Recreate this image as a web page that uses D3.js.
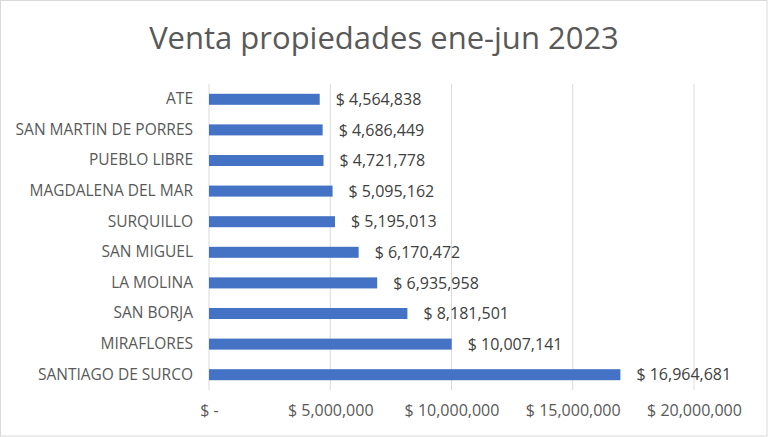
<!DOCTYPE html>
<html>
<head>
<meta charset="utf-8">
<script src="https://cdn.jsdelivr.net/npm/d3@7"></script>
<style>
  body { margin: 0; background: #fff; }
  svg text { font-family: "Open Sans", "Noto Sans", sans-serif; }
</style>
</head>
<body>
<svg id="chart"></svg>
<script>
const categories = ['ATE', 'SAN MARTIN DE PORRES', 'PUEBLO LIBRE', 'MAGDALENA DEL MAR', 'SURQUILLO',
  'SAN MIGUEL', 'LA MOLINA', 'SAN BORJA', 'MIRAFLORES', 'SANTIAGO DE SURCO']
const values = [4564838, 4686449, 4721778, 5095162, 5195013, 6170472, 6935958, 8181501, 10007141, 16964681]
const ticks = [0, 5000000, 10000000, 15000000, 20000000]

const width = 768
const height = 437
const margin = { top: 84, right: 74, bottom: 47, left: 209 }

const fmt = d3.format(',')
const money = d => (d === 0 ? '$ -' : '$ ' + fmt(d))

const svg = d3.select('#chart').attr('width', width).attr('height', height)

svg.append('rect')
  .attr('x', 0.5).attr('y', 0.5)
  .attr('width', width - 1.5).attr('height', height - 1.5)
  .attr('fill', '#fff').attr('stroke', '#d9d9d9')

svg.append('text')
  .attr('x', width / 2).attr('y', 49)
  .attr('text-anchor', 'middle')
  .attr('font-size', 31)
  .attr('fill', '#595959')
  .text('Venta propiedades ene-jun 2023')

const x = d3.scaleLinear().domain([0, 20000000]).range([margin.left, width - margin.right])
const y = d3.scaleBand().domain(categories).range([margin.top, height - margin.bottom]).paddingInner(0.64).paddingOuter(0.32)

// grid
svg.append('g')
  .selectAll('line')
  .data(ticks)
  .join('line')
  .attr('x1', d => x(d)).attr('x2', d => x(d))
  .attr('y1', margin.top).attr('y2', height - margin.bottom)
  .attr('stroke', '#d9d9d9')

// x axis labels
const xAxis = d3.axisBottom(x).tickValues(ticks).tickFormat(money).tickSize(0).tickPadding(15)
svg.append('g')
  .attr('transform', `translate(0,${height - margin.bottom})`)
  .call(xAxis)
  .call(g => g.select('.domain').remove())
  .call(g => g.selectAll('text').attr('font-size', 16).attr('fill', '#595959'))

// y axis labels
const yAxis = d3.axisLeft(y).tickSize(0).tickPadding(16)
svg.append('g')
  .attr('transform', `translate(${margin.left},0)`)
  .call(yAxis)
  .call(g => g.select('.domain').remove())
  .call(g => g.selectAll('text').attr('font-size', 15.5).attr('fill', '#595959'))

// bars
svg.append('g')
  .selectAll('rect')
  .data(values)
  .join('rect')
  .attr('x', x(0))
  .attr('y', (d, i) => y(categories[i]))
  .attr('width', d => x(d) - x(0))
  .attr('height', y.bandwidth())
  .attr('fill', '#4472c4')

// data labels
svg.append('g')
  .selectAll('text')
  .data(values)
  .join('text')
  .attr('x', d => x(d) + 16)
  .attr('y', (d, i) => y(categories[i]) + y.bandwidth() / 2)
  .attr('dy', '0.35em')
  .attr('font-size', 16)
  .attr('fill', '#404040')
  .text(money)
</script>
</body>
</html>
